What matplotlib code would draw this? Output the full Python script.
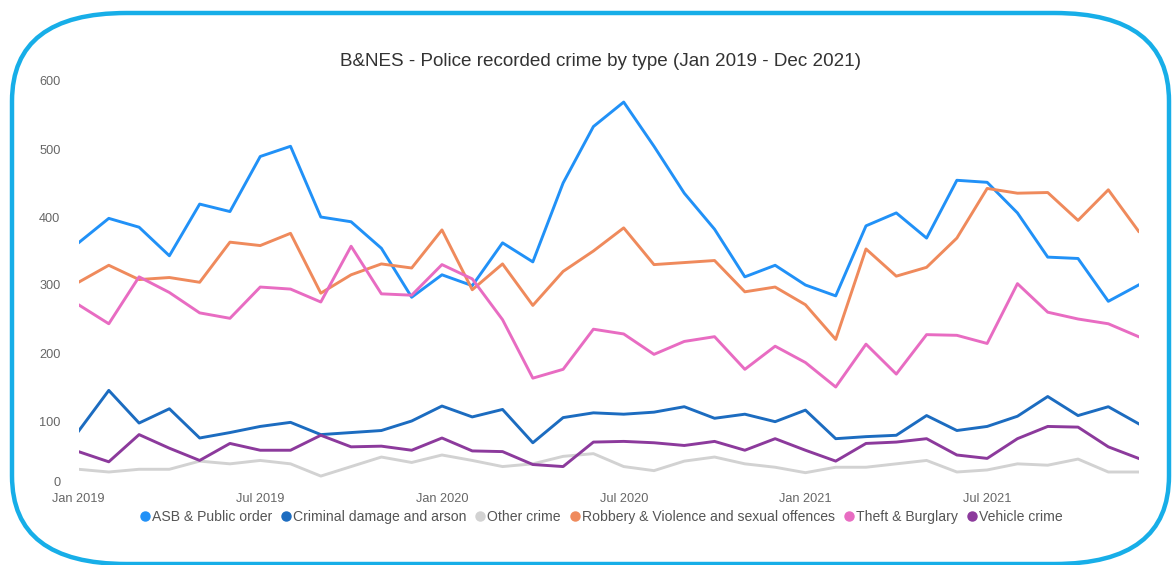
import numpy as np
import matplotlib
matplotlib.use("Agg")
import matplotlib.pyplot as plt
from matplotlib.patches import FancyBboxPatch

plt.rcParams['font.family'] = ['Liberation Sans', 'DejaVu Sans']

# monthly counts, Jan 2019 .. Dec 2021
months = np.arange(36)
tick_pos = [0, 6, 12, 18, 24, 30]
tick_labels = ["Jan 2019", "Jul 2019", "Jan 2020", "Jul 2020", "Jan 2021", "Jul 2021"]

asb = [362, 398, 385, 343, 419, 408, 489, 504, 400, 393, 354, 282,
       315, 299, 362, 334, 450, 533, 569, 504, 435, 382, 312, 329,
       300, 284, 387, 406, 369, 454, 451, 406, 341, 339, 276, 300]
criminal = [85, 145, 97, 118, 75, 83, 92, 98, 80, 83, 86, 100,
            122, 106, 117, 68, 105, 112, 110, 113, 121, 104, 110, 99,
            116, 74, 77, 79, 108, 86, 92, 107, 136, 108, 121, 96]
other = [29, 25, 29, 29, 41, 37, 42, 37, 19, 33, 47, 39,
         50, 42, 33, 37, 48, 52, 33, 27, 41, 47, 37, 32,
         24, 32, 32, 37, 42, 25, 28, 37, 35, 44, 25, 25]
robbery = [304, 329, 308, 311, 304, 363, 358, 376, 288, 315, 331, 325,
           381, 293, 331, 270, 320, 350, 384, 330, 333, 336, 290, 297,
           271, 220, 353, 313, 326, 369, 442, 435, 436, 395, 440, 379]
theft = [271, 243, 312, 289, 259, 251, 297, 294, 275, 357, 287, 285,
         330, 309, 249, 163, 176, 235, 228, 198, 217, 224, 176, 210,
         186, 150, 213, 169, 227, 226, 214, 302, 260, 250, 243, 224]
vehicle = [55, 40, 80, 60, 42, 67, 57, 57, 79, 62, 63, 57,
           75, 56, 55, 36, 33, 69, 70, 68, 64, 70, 57, 74,
           57, 41, 67, 69, 74, 50, 45, 74, 92, 91, 62, 45]

series = [
    ("ASB & Public order", asb, "#2191f7"),
    ("Criminal damage and arson", criminal, "#1c6cc0"),
    ("Other crime", other, "#d2d2d2"),
    ("Robbery & Violence and sexual offences", robbery, "#ef8a5c"),
    ("Theft & Burglary", theft, "#e86cc2"),
    ("Vehicle crime", vehicle, "#8c3a9c"),
]

W, H = 1173, 565
fig = plt.figure(figsize=(W / 100, H / 100), dpi=100)

# rounded frame (x squeezed so the corners come out elliptical)
sx = 1.3
bg = fig.add_axes([0, 0, 1, 1])
bg.set_xlim(0, W / sx)
bg.set_ylim(H, 0)
bg.axis("off")
bg.add_patch(FancyBboxPatch((12 / sx, 13), 1157 / sx, 551, boxstyle="round,pad=0,rounding_size=88",
                            fill=False, ec="#17aee8", lw=3.2))

ax = fig.add_axes([78.5 / W, 1 - 489 / H, (1138.6 - 78.5) / W, (489 - 81) / H])
ax.patch.set_alpha(0)
for name, vals, col in series:
    ax.plot(months, vals, color=col, lw=2.1, label=name)

ax.set_xlim(0, 35)
ax.set_ylim(0, 600)
ax.set_yticks(range(0, 601, 100))
ax.set_xticks(tick_pos)
ax.set_xticklabels(tick_labels)
for s in ax.spines.values():
    s.set_visible(False)
ax.tick_params(length=0, labelsize=9.2, colors="#666666")
ax.tick_params(axis="y", pad=13)
ax.tick_params(axis="x", pad=3)
# the "0" sits just above the first month label, as in the source
ax.get_yticklabels()[0].set_va("bottom")

fig.text(601 / W, 1 - 62 / H, "B&NES - Police recorded crime by type (Jan 2019 - Dec 2021)",
         ha="center", va="center", fontsize=13.6, color="#333333")

handles = [plt.Line2D([], [], ls="none", marker="o", ms=6.5, color=c) for _, _, c in series]
fig.legend(handles, [n for n, _, _ in series], loc="center", bbox_to_anchor=(600 / W, 1 - 517 / H),
           ncol=6, frameon=False, fontsize=10.1, handletextpad=0.0, columnspacing=0.5,
           handlelength=1.0, labelcolor="#555555")

fig.savefig("out.png", dpi=100)
